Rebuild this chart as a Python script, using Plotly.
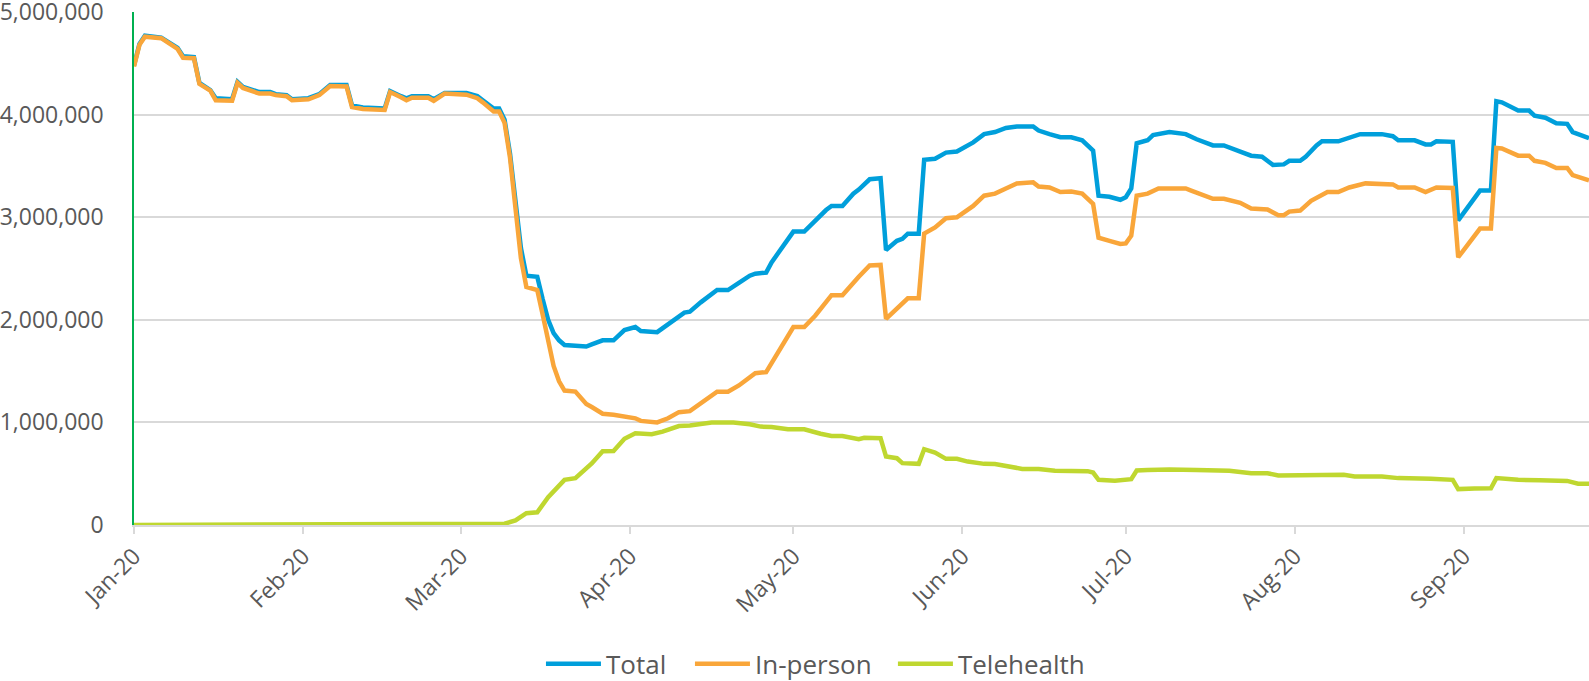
import plotly.graph_objects as go

# ---- data ----
total_dates = ["2020-01-01","2020-01-02","2020-01-03","2020-01-06","2020-01-09","2020-01-10","2020-01-12","2020-01-13","2020-01-15","2020-01-16",
 "2020-01-19","2020-01-20","2020-01-21","2020-01-24","2020-01-26","2020-01-27","2020-01-29","2020-01-30","2020-02-02","2020-02-04",
 "2020-02-06","2020-02-09","2020-02-10","2020-02-12","2020-02-16","2020-02-17","2020-02-19","2020-02-20","2020-02-21","2020-02-24",
 "2020-02-25","2020-02-27","2020-03-02","2020-03-04","2020-03-05","2020-03-07","2020-03-08","2020-03-09","2020-03-10","2020-03-11",
 "2020-03-12","2020-03-13","2020-03-15","2020-03-16","2020-03-17","2020-03-18","2020-03-19","2020-03-20","2020-03-24","2020-03-25",
 "2020-03-27","2020-03-29","2020-03-31","2020-04-02","2020-04-03","2020-04-06","2020-04-07","2020-04-09","2020-04-11","2020-04-12",
 "2020-04-14","2020-04-17","2020-04-19","2020-04-21","2020-04-23","2020-04-24","2020-04-26","2020-04-27","2020-05-01","2020-05-03",
 "2020-05-05","2020-05-07","2020-05-08","2020-05-10","2020-05-12","2020-05-13","2020-05-15","2020-05-17","2020-05-18","2020-05-20",
 "2020-05-21","2020-05-22","2020-05-24","2020-05-25","2020-05-27","2020-05-29","2020-05-31","2020-06-03","2020-06-05","2020-06-07",
 "2020-06-09","2020-06-11","2020-06-14","2020-06-15","2020-06-17","2020-06-19","2020-06-21","2020-06-23","2020-06-25","2020-06-26",
 "2020-06-28","2020-06-30","2020-07-01","2020-07-02","2020-07-03","2020-07-05","2020-07-06","2020-07-09","2020-07-12","2020-07-14",
 "2020-07-17","2020-07-19","2020-07-22","2020-07-24","2020-07-26","2020-07-28","2020-07-30","2020-07-31","2020-08-02","2020-08-03",
 "2020-08-05","2020-08-06","2020-08-09","2020-08-11","2020-08-13","2020-08-17","2020-08-19","2020-08-20","2020-08-23","2020-08-25",
 "2020-08-26","2020-08-27","2020-08-30","2020-08-31","2020-09-04","2020-09-06","2020-09-07","2020-09-08","2020-09-11","2020-09-13",
 "2020-09-14","2020-09-16","2020-09-18","2020-09-20","2020-09-21","2020-09-24"]
total_values = [4.48,4.69,4.77,4.75,4.65,4.57,4.56,4.31,4.24,4.16,
 4.15,4.32,4.27,4.22,4.22,4.20,4.19,4.15,4.16,4.20,
 4.29,4.29,4.09,4.07,4.06,4.23,4.18,4.16,4.18,4.18,
 4.15,4.21,4.21,4.18,4.14,4.06,4.06,3.95,3.62,3.18,
 2.70,2.43,2.42,2.20,2.00,1.87,1.80,1.755,1.74,1.76,
 1.80,1.80,1.90,1.93,1.89,1.88,1.92,1.99,2.07,2.08,
 2.17,2.29,2.29,2.36,2.43,2.45,2.46,2.56,2.86,2.86,
 2.97,3.07,3.11,3.11,3.23,3.27,3.37,3.38,2.68,2.77,
 2.79,2.84,2.84,3.56,3.57,3.63,3.64,3.73,3.81,3.83,
 3.87,3.885,3.885,3.845,3.81,3.78,3.78,3.75,3.65,3.21,
 3.20,3.17,3.195,3.28,3.72,3.75,3.80,3.83,3.81,3.76,
 3.70,3.70,3.64,3.60,3.59,3.51,3.515,3.55,3.55,3.59,
 3.70,3.74,3.74,3.78,3.81,3.81,3.79,3.75,3.75,3.71,
 3.71,3.74,3.735,2.97,3.26,3.26,4.13,4.12,4.04,4.04,
 3.99,3.97,3.915,3.91,3.83,3.77]

inperson_dates = ["2020-01-01","2020-01-02","2020-01-03","2020-01-06","2020-01-09","2020-01-10","2020-01-12","2020-01-13","2020-01-15","2020-01-16",
 "2020-01-19","2020-01-20","2020-01-21","2020-01-24","2020-01-26","2020-01-27","2020-01-29","2020-01-30","2020-02-02","2020-02-04",
 "2020-02-06","2020-02-09","2020-02-10","2020-02-12","2020-02-16","2020-02-17","2020-02-19","2020-02-20","2020-02-21","2020-02-24",
 "2020-02-25","2020-02-27","2020-03-02","2020-03-04","2020-03-05","2020-03-07","2020-03-08","2020-03-09","2020-03-10","2020-03-11",
 "2020-03-12","2020-03-13","2020-03-15","2020-03-16","2020-03-17","2020-03-18","2020-03-19","2020-03-20","2020-03-22","2020-03-24",
 "2020-03-25","2020-03-27","2020-03-29","2020-03-31","2020-04-02","2020-04-03","2020-04-06","2020-04-08","2020-04-10","2020-04-12",
 "2020-04-14","2020-04-17","2020-04-19","2020-04-21","2020-04-24","2020-04-26","2020-05-01","2020-05-03","2020-05-05","2020-05-07",
 "2020-05-08","2020-05-10","2020-05-12","2020-05-13","2020-05-15","2020-05-17","2020-05-18","2020-05-22","2020-05-24","2020-05-25",
 "2020-05-27","2020-05-29","2020-05-31","2020-06-03","2020-06-05","2020-06-07","2020-06-09","2020-06-11","2020-06-14","2020-06-15",
 "2020-06-17","2020-06-19","2020-06-21","2020-06-23","2020-06-25","2020-06-26","2020-06-28","2020-06-30","2020-07-01","2020-07-02",
 "2020-07-03","2020-07-05","2020-07-07","2020-07-12","2020-07-13","2020-07-17","2020-07-19","2020-07-22","2020-07-24","2020-07-27",
 "2020-07-29","2020-07-30","2020-07-31","2020-08-02","2020-08-04","2020-08-07","2020-08-09","2020-08-11","2020-08-14","2020-08-19",
 "2020-08-20","2020-08-23","2020-08-25","2020-08-27","2020-08-30","2020-08-31","2020-09-04","2020-09-06","2020-09-07","2020-09-08",
 "2020-09-11","2020-09-13","2020-09-14","2020-09-16","2020-09-18","2020-09-20","2020-09-21","2020-09-24"]
inperson_values = [4.47,4.68,4.76,4.745,4.64,4.555,4.55,4.30,4.235,4.14,
 4.135,4.31,4.26,4.205,4.205,4.19,4.18,4.14,4.15,4.19,
 4.28,4.275,4.075,4.055,4.045,4.22,4.17,4.14,4.165,4.165,
 4.135,4.205,4.195,4.16,4.12,4.03,4.03,3.92,3.58,3.10,
 2.60,2.32,2.29,2.05,1.80,1.55,1.40,1.31,1.30,1.18,
 1.15,1.085,1.075,1.06,1.04,1.015,1.00,1.04,1.10,1.11,
 1.19,1.30,1.30,1.36,1.48,1.49,1.93,1.93,2.04,2.17,
 2.24,2.24,2.37,2.42,2.53,2.535,2.01,2.21,2.21,2.84,
 2.90,2.99,3.00,3.11,3.21,3.23,3.28,3.33,3.34,3.30,
 3.29,3.245,3.25,3.23,3.13,2.80,2.77,2.74,2.745,2.82,
 3.21,3.23,3.28,3.28,3.26,3.18,3.18,3.14,3.085,3.075,
 3.02,3.02,3.055,3.065,3.16,3.245,3.245,3.29,3.33,3.32,
 3.29,3.29,3.245,3.29,3.285,2.61,2.89,2.89,3.675,3.67,
 3.60,3.60,3.55,3.53,3.48,3.48,3.41,3.36]

telehealth_dates = ["2020-01-01","2020-03-03","2020-03-08","2020-03-09","2020-03-11","2020-03-13","2020-03-15","2020-03-17","2020-03-20","2020-03-22",
 "2020-03-25","2020-03-27","2020-03-29","2020-03-31","2020-04-02","2020-04-05","2020-04-07","2020-04-10","2020-04-12","2020-04-16",
 "2020-04-20","2020-04-23","2020-04-25","2020-04-27","2020-04-30","2020-05-03","2020-05-06","2020-05-08","2020-05-10","2020-05-13",
 "2020-05-14","2020-05-17","2020-05-18","2020-05-20","2020-05-21","2020-05-24","2020-05-25","2020-05-27","2020-05-29","2020-05-31",
 "2020-06-02","2020-06-05","2020-06-07","2020-06-10","2020-06-12","2020-06-15","2020-06-18","2020-06-24","2020-06-25","2020-06-26",
 "2020-06-29","2020-07-02","2020-07-03","2020-07-05","2020-07-09","2020-07-14","2020-07-17","2020-07-20","2020-07-24","2020-07-27",
 "2020-07-29","2020-08-04","2020-08-07","2020-08-10","2020-08-12","2020-08-17","2020-08-20","2020-08-24","2020-08-26","2020-08-30",
 "2020-08-31","2020-09-03","2020-09-06","2020-09-07","2020-09-11","2020-09-15","2020-09-18","2020-09-20","2020-09-22","2020-09-24"]
telehealth_values = [0.0,0.003,0.010,0.012,0.045,0.115,0.124,0.27,0.44,0.457,
 0.60,0.72,0.722,0.84,0.895,0.885,0.91,0.965,0.97,0.998,
 0.998,0.982,0.959,0.955,0.933,0.933,0.89,0.868,0.868,0.836,
 0.85,0.846,0.667,0.651,0.603,0.596,0.739,0.706,0.645,0.645,
 0.618,0.596,0.594,0.564,0.547,0.545,0.528,0.525,0.511,0.44,
 0.431,0.447,0.531,0.535,0.541,0.535,0.528,0.528,0.505,0.505,
 0.482,0.482,0.489,0.489,0.473,0.473,0.457,0.457,0.45,0.44,
 0.35,0.355,0.357,0.457,0.44,0.437,0.43,0.43,0.402,0.402]

month_ticks = ["2020-01-01","2020-02-01","2020-03-01","2020-04-01","2020-05-01","2020-06-01","2020-07-01","2020-08-01","2020-09-01"]
month_labels = ["Jan-20","Feb-20","Mar-20","Apr-20","May-20","Jun-20","Jul-20","Aug-20","Sep-20"]
y_ticks = [0, 1000000, 2000000, 3000000, 4000000, 5000000]

M = 1_000_000
FONT = "Open Sans"
GREY = "#595959"

series = [
    ("Total", total_dates, total_values, "#009FDB", "legend"),
    ("In-person", inperson_dates, inperson_values, "#F9A63A", "legend2"),
    ("Telehealth", telehealth_dates, telehealth_values, "#BFD730", "legend3"),
]

fig = go.Figure()
for name, d, v, col, lg in series:
    fig.add_trace(go.Scatter(
        x=d, y=[val * M for val in v], name=name, mode="lines",
        line=dict(color=col, width=4.5), legend=lg, showlegend=True,
    ))

leg_common = dict(orientation="h", yref="container", yanchor="middle", y=0.025,
                  xanchor="left",
                  font=dict(family=FONT, size=26, color=GREY), itemwidth=55,
                  bgcolor="rgba(0,0,0,0)", borderwidth=0)

fig.update_layout(
    width=1589, height=681,
    margin=dict(l=134, r=0, t=12, b=156, autoexpand=False),
    plot_bgcolor="white", paper_bgcolor="white",
    font=dict(family=FONT, color=GREY),
    showlegend=True,
    legend=dict(x=0.2797, **leg_common),
    legend2=dict(x=0.3821, **leg_common),
    legend3=dict(x=0.5216, **leg_common),
    xaxis=dict(
        type="date", range=["2020-01-01", "2020-09-24"],
        tickvals=month_ticks, ticktext=month_labels, tickangle=-45,
        tickfont=dict(family=FONT, size=23, color=GREY),
        ticks="outside", ticklen=7, tickcolor="#D9D9D9", tickwidth=1.5,
        showgrid=False, showline=True, linecolor="#D9D9D9", linewidth=1.5,
        zeroline=False,
    ),
    yaxis=dict(
        range=[0, 5.0005 * M], tickvals=y_ticks, tickformat=",d",
        tickfont=dict(family=FONT, size=23, color=GREY),
        ticks="outside", ticklen=24, tickcolor="rgba(0,0,0,0)",
        ticklabeloverflow="allow",
        showgrid=True, gridcolor="#D9D9D9", gridwidth=1.5,
        showline=True, linecolor="#00B050", linewidth=1.5,
        zeroline=False,
    ),
)

# page body has a default 8px margin; remove it so the figure fills the window
fig.write_html("out.html", config={"displayModeBar": False},
               post_script="document.body.style.margin='0px';")
